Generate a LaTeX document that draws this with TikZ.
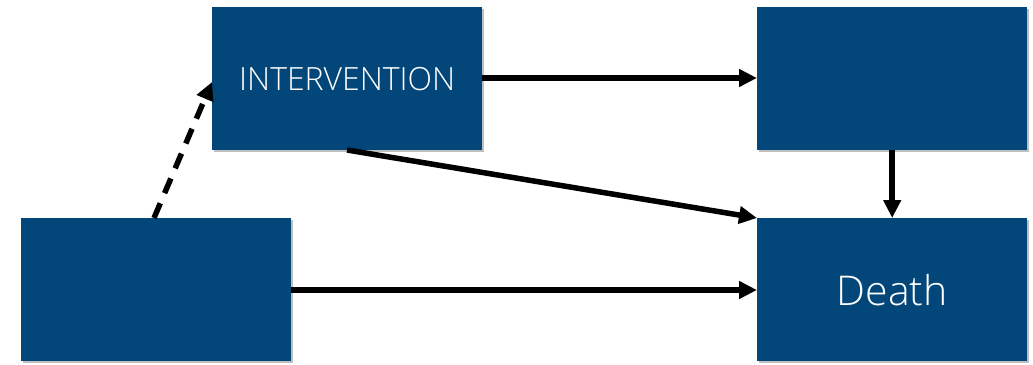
\documentclass[tikz,border=0pt]{standalone}
\usepackage{fontspec}
\setmainfont{Open Sans Light}
\usetikzlibrary{arrows.meta,shadows}
\definecolor{boxblue}{RGB}{2,70,122}
\tikzset{
  box/.style={rectangle, fill=boxblue, draw=none, minimum width=270pt, minimum height=143pt,
    anchor=north west, inner sep=0pt, text=white,
    drop shadow={shadow xshift=1.5pt, shadow yshift=-1.5pt, opacity=0.25, fill=black}},
  link/.style={line width=5.5pt, -{Triangle[length=18pt,width=17pt]}},
}
\begin{document}
\begin{tikzpicture}[x=1pt,y=-1pt]
  \useasboundingbox (0,0) rectangle (1033,364);
  \node[box] (interv) at (212,7) {\fontsize{32}{35}\selectfont INTERVENTION};
  \node[box] (mediator) at (757,7) {};
  \node[box] (confounder) at (21,218) {};
  \node[box] (death) at (757,218) {\fontsize{41}{45}\selectfont Death};
  \coordinate (intbot) at (347,150);
  \coordinate (confout) at (154,218);
  \draw[link] (interv.east |- 0,78) -- (mediator.west |- 0,78);
  \draw[link] (mediator.south) -- (death.north -| mediator.south);
  \draw[link] (intbot) -- (death.north west);
  \draw[link] (confounder.east |- 0,290) -- (death.west |- 0,290);
  \draw[link, dash pattern=on 16pt off 11pt] (confout) -- (interv.west |- 0,82);
\end{tikzpicture}
\end{document}
